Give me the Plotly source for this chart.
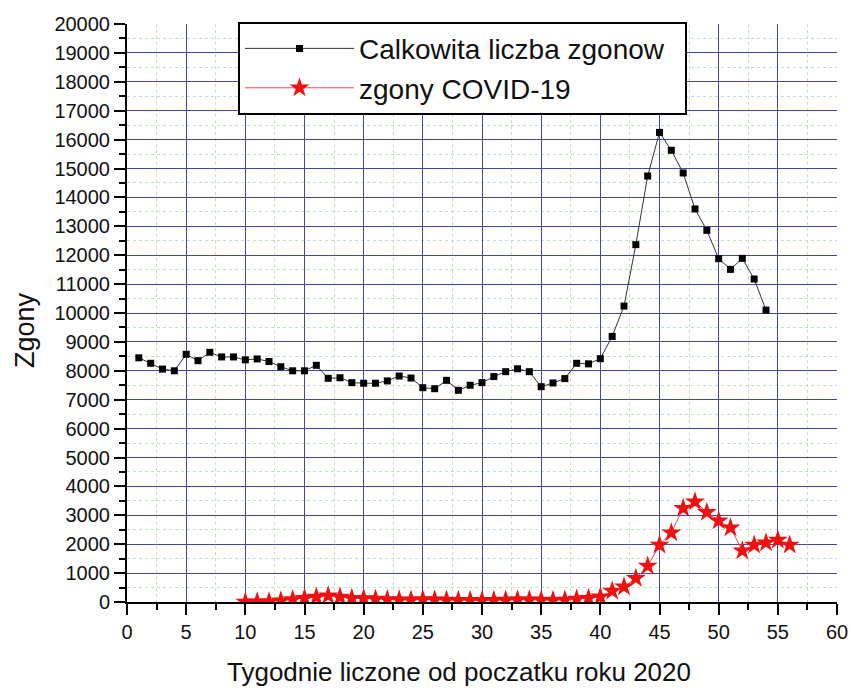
import plotly.graph_objects as go

# Weekly deaths in Poland, 2020 (weeks counted from the start of the year)
weeks_total = list(range(1, 55))
deaths_total = [
    8450, 8260, 8060, 8000, 8570, 8350, 8640, 8480, 8480, 8380,
    8410, 8320, 8140, 8000, 8000, 8190, 7740, 7760, 7590, 7570,
    7570, 7650, 7820, 7750, 7415, 7380, 7670, 7325, 7500, 7590,
    7800, 7970, 8070, 7970, 7450, 7580, 7730, 8260, 8240, 8420,
    9190, 10240, 12365, 14740, 16250, 15630, 14845, 13600, 12860, 11880,
    11510, 11890, 11175, 10100,
]

weeks_covid = list(range(10, 57))
deaths_covid = [
    0, 5, 10, 40, 90, 130, 170, 220, 170, 130,
    120, 100, 90, 80, 70, 90, 80, 70, 60, 60,
    50, 60, 70, 80, 80, 70, 60, 70, 100, 130,
    183, 380, 530, 820, 1245, 1970, 2400, 3240, 3470, 3105,
    2810, 2570, 1775, 1970, 2050, 2145, 1970,
]

x_ticks = list(range(0, 61, 5))
y_ticks = list(range(0, 20001, 1000))
y_tick_text = [str(v) for v in y_ticks]

FONT = "Arial, Liberation Sans, sans-serif"
MAJOR_GRID = "#4646a2"
MINOR_GRID = "#c2dfc2"

fig = go.Figure()

fig.add_trace(go.Scatter(
    x=weeks_total, y=deaths_total,
    mode="lines+markers",
    name="Calkowita liczba zgonow\u00a0\u00a0",
    line=dict(color="#333333", width=1),
    marker=dict(symbol="square", size=7, color="black"),
))

fig.add_trace(go.Scatter(
    x=weeks_covid, y=deaths_covid,
    mode="lines+markers",
    name="zgony COVID-19",
    line=dict(color="#e05050", width=1),
    marker=dict(symbol="star", size=15, color="#ee1111",
                line=dict(width=0)),
))

axis_common = dict(
    showline=True, linecolor="black", linewidth=2,
    ticks="outside", ticklen=11, tickwidth=2, tickcolor="black",
    showgrid=True, gridcolor=MAJOR_GRID, gridwidth=1,
    zeroline=False, automargin=False,
    tickfont=dict(family=FONT, size=20, color="#111111"),
)

fig.update_xaxes(
    range=[0, 60], tickvals=x_ticks,
    minor=dict(dtick=2.5, ticks="outside", ticklen=6, tickwidth=2,
               tickcolor="black", showgrid=True, gridcolor=MINOR_GRID,
               griddash="dot", gridwidth=1),
    **axis_common,
)
fig.update_yaxes(
    range=[0, 20000], tickvals=y_ticks, ticktext=y_tick_text,
    minor=dict(dtick=500, ticks="outside", ticklen=6, tickwidth=2,
               tickcolor="black", showgrid=True, gridcolor=MINOR_GRID,
               griddash="dot", gridwidth=1),
    **axis_common,
)

fig.add_annotation(
    text="Tygodnie liczone od poczatku roku 2020",
    xref="paper", yref="paper", x=(459 - 127) / 710, y=-70 / 578,
    xanchor="center", yanchor="middle", showarrow=False,
    font=dict(family=FONT, size=26, color="#111111"),
)
fig.add_annotation(
    text="Zgony",
    xref="paper", yref="paper", x=-102 / 710, y=(602 - 330) / 578,
    xanchor="center", yanchor="middle", showarrow=False, textangle=-90,
    font=dict(family=FONT, size=27, color="#111111"),
)

fig.update_layout(
    width=851, height=691,
    margin=dict(l=127, r=14, t=24, b=89),
    paper_bgcolor="white", plot_bgcolor="white",
    showlegend=True,
    legend=dict(
        x=(238 - 127) / 710, y=1.004, xanchor="left", yanchor="top",
        bgcolor="white", bordercolor="black", borderwidth=2,
        font=dict(family=FONT, size=28, color="#111111"),
        itemwidth=109, itemsizing="trace", tracegroupgap=0,
    ),
)

fig.write_html("out.html")
